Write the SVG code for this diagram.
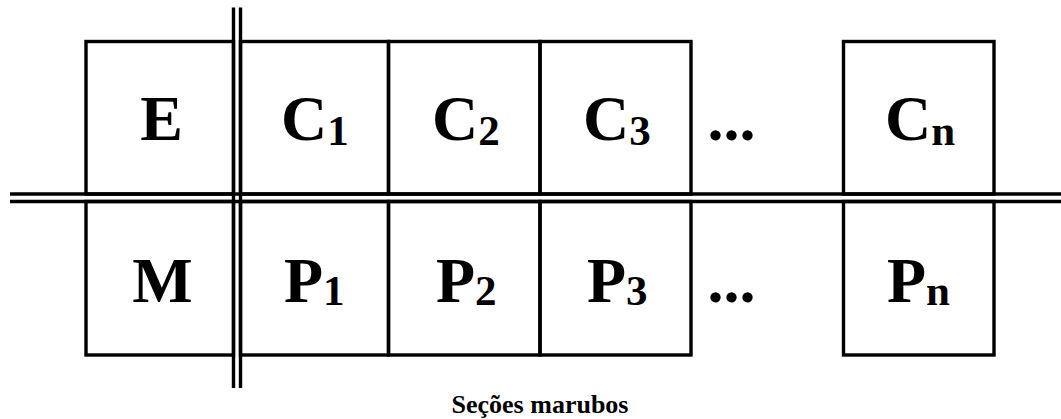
<svg xmlns="http://www.w3.org/2000/svg" width="1061" height="419" viewBox="0 0 1061 419">
  <style>
    .cell { fill: none; stroke: #000; stroke-width: 3.4; }
    .rule { stroke: #000; stroke-width: 3.4; fill: none; }
    .lbl { font-family: "Liberation Serif", "Times New Roman", serif; font-weight: bold; font-size: 64px; fill: #000; }
    .sub { font-size: 43px; }
    .cap { font-family: "Liberation Serif", "Times New Roman", serif; font-weight: bold; font-size: 26px; fill: #000; }
  </style>
  <rect width="1061" height="419" fill="#fff"/>

  <!-- top row -->
  <g id="node-E"><rect class="cell" x="86" y="41.5" width="147.5" height="152.5"/><text class="lbl" x="161.5" y="140" text-anchor="middle">E</text></g>
  <g id="node-C1"><rect class="cell" x="240.5" y="41.5" width="148" height="152.5"/><text class="lbl" x="281" y="140">C<tspan class="sub" dy="5">1</tspan></text></g>
  <g id="node-C2"><rect class="cell" x="388.5" y="41.5" width="151.5" height="152.5"/><text class="lbl" x="432" y="140">C<tspan class="sub" dy="5">2</tspan></text></g>
  <g id="node-C3"><rect class="cell" x="540" y="41.5" width="151" height="152.5"/><text class="lbl" x="583" y="140">C<tspan class="sub" dy="5">3</tspan></text></g>
  <g id="node-dots-top"><text class="lbl" x="707.5" y="140">...</text></g>
  <g id="node-Cn"><rect class="cell" x="843.5" y="41.5" width="150.5" height="152.5"/><text class="lbl" x="885" y="140">C<tspan class="sub" dy="5">n</tspan></text></g>

  <!-- bottom row -->
  <g id="node-M"><rect class="cell" x="86" y="201.5" width="147.5" height="153.5"/><text class="lbl" x="162.5" y="302" text-anchor="middle">M</text></g>
  <g id="node-P1"><rect class="cell" x="240.5" y="201.5" width="148" height="153.5"/><text class="lbl" x="284" y="302">P<tspan class="sub" dy="3">1</tspan></text></g>
  <g id="node-P2"><rect class="cell" x="388.5" y="201.5" width="151.5" height="153.5"/><text class="lbl" x="436" y="302">P<tspan class="sub" dy="3">2</tspan></text></g>
  <g id="node-P3"><rect class="cell" x="540" y="201.5" width="151" height="153.5"/><text class="lbl" x="587" y="302">P<tspan class="sub" dy="3">3</tspan></text></g>
  <g id="node-dots-bottom"><text class="lbl" x="707.5" y="302">...</text></g>
  <g id="node-Pn"><rect class="cell" x="843.5" y="201.5" width="150.5" height="153.5"/><text class="lbl" x="887" y="302">P<tspan class="sub" dy="3">n</tspan></text></g>

  <!-- double dividing rules -->
  <g id="connectors">
    <line class="rule" x1="233.5" y1="7.5" x2="233.5" y2="388"/>
    <line class="rule" x1="240.5" y1="7.5" x2="240.5" y2="388"/>
    <line class="rule" x1="10" y1="194" x2="1061" y2="194"/>
    <line class="rule" x1="10" y1="201.5" x2="1061" y2="201.5"/>
  </g>

  <g id="caption"><text class="cap" x="540" y="413" text-anchor="middle">Seções marubos</text></g>
</svg>
